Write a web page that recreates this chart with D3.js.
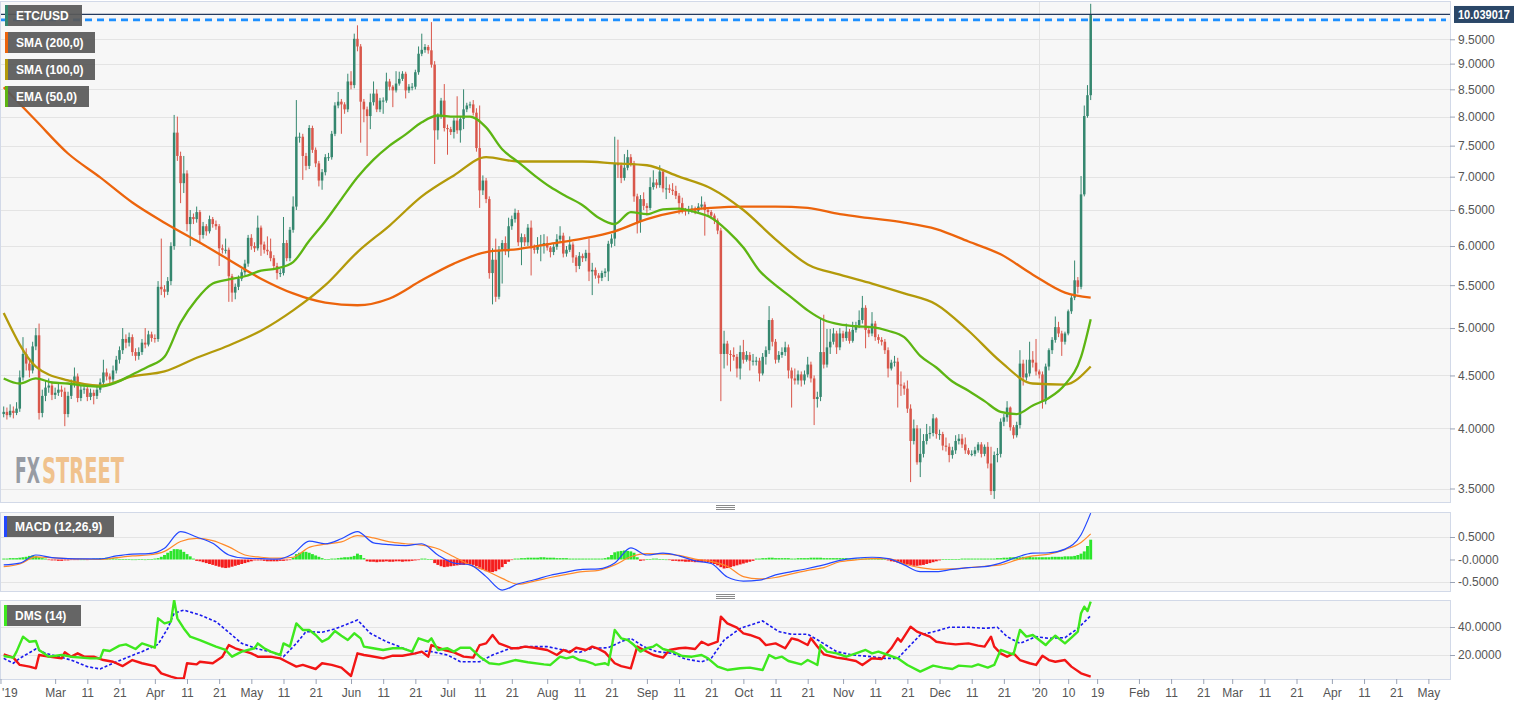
<!DOCTYPE html>
<html>
<head>
<meta charset="utf-8">
<script src="https://cdnjs.cloudflare.com/ajax/libs/d3/7.8.5/d3.min.js"></script>
<style>
    html, body { margin: 0; padding: 0; background: #fff; overflow: hidden; }
    svg { display: block; font-family: 'Liberation Sans', Arial, sans-serif; }
</style>
</head>
<body>
<div id="vis"></div>
<script>
'use strict';

//daily candles ETC/USD, first candle 2019-02-13, last 2020-01-17
var firstDay = Date.UTC(2019, 1, 13);
var firstOpen = 4.13;
var closes = [
    4.15, 4.12, 4.16, 4.14, 4.18, 4.48, 4.72, 4.62, 4.55, 4.80,
    4.92, 4.14, 4.30, 4.38, 4.40, 4.31, 4.33, 4.36, 4.34, 4.13,
    4.30, 4.42, 4.49, 4.28, 4.36, 4.37, 4.29, 4.33, 4.30, 4.36,
    4.43, 4.53, 4.49, 4.46, 4.55, 4.66, 4.76, 4.88, 4.84, 4.90,
    4.74, 4.70, 4.74, 4.84, 4.82, 4.93, 4.89, 4.88, 5.48, 5.45,
    5.42, 5.55, 6.00, 7.72, 7.33, 6.90, 7.05, 6.30, 6.40, 6.37,
    6.47, 6.15, 6.27, 6.20, 6.37, 6.30, 6.27, 5.97, 5.95, 5.95,
    5.61, 5.41, 5.48, 5.58, 5.66, 5.77, 6.11, 6.00, 5.97, 6.25,
    6.02, 5.95, 5.93, 5.84, 5.74, 5.65, 5.65, 6.04, 5.84, 6.22,
    6.55, 7.65, 7.65, 7.33, 7.17, 7.80, 7.43, 7.21, 6.94, 7.07,
    7.31, 7.31, 7.70, 8.20, 8.27, 8.22, 8.13, 8.65, 8.58, 9.51,
    9.35, 8.27, 8.13, 8.01, 8.26, 8.42, 8.13, 8.29, 8.29, 8.65,
    8.55, 8.48, 8.61, 8.70, 8.80, 8.48, 8.55, 8.55, 8.83, 9.20,
    9.28, 9.34, 9.27, 8.98, 7.76, 8.02, 8.29, 7.80, 7.78, 7.73,
    7.93, 7.76, 7.96, 8.13, 8.20, 8.22, 8.07, 7.46, 6.79, 6.94,
    6.66, 5.65, 5.82, 5.36, 5.95, 6.04, 5.93, 6.27, 6.37, 6.46,
    6.05, 6.12, 6.05, 6.25, 5.97, 5.95, 6.00, 6.02, 6.04, 5.98,
    5.92, 5.99, 6.09, 6.14, 5.90, 5.95, 6.02, 5.85, 5.74, 5.87,
    5.84, 5.91, 5.67, 5.69, 5.62, 5.59, 5.65, 5.67, 6.03, 6.10,
    7.21, 7.18, 6.98, 7.14, 7.31, 7.21, 6.70, 6.33, 6.66, 6.56,
    6.53, 6.84, 6.91, 6.87, 7.08, 6.82, 6.82, 6.80, 6.78, 6.71,
    6.60, 6.50, 6.48, 6.51, 6.52, 6.49, 6.55, 6.58, 6.50, 6.47,
    6.42, 6.35, 6.21, 4.72, 4.83, 4.72, 4.71, 4.69, 4.57, 4.74,
    4.66, 4.71, 4.65, 4.65, 4.65, 4.52, 4.69, 4.76, 5.09, 4.85,
    4.66, 4.71, 4.74, 4.79, 4.55, 4.47, 4.45, 4.51, 4.45, 4.51,
    4.61, 4.47, 4.27, 4.29, 4.74, 4.61, 4.79, 4.85, 4.94, 4.79,
    4.94, 4.89, 4.96, 4.86, 4.98, 5.03, 5.09, 5.23, 4.98, 4.94,
    5.05, 4.90, 4.87, 4.85, 4.76, 4.57, 4.63, 4.64, 4.41, 4.40,
    4.37, 4.18, 3.89, 4.00, 3.71, 3.78, 3.89, 3.95, 3.96, 4.09,
    3.95, 3.95, 3.85, 3.84, 3.77, 3.81, 3.89, 3.91, 3.86, 3.81,
    3.78, 3.78, 3.81, 3.86, 3.78, 3.84, 3.70, 3.48, 3.77, 3.78,
    4.06, 4.10, 4.19, 4.01, 3.94, 4.03, 4.62, 4.48, 4.52, 4.66,
    4.63, 4.54, 4.51, 4.25, 4.59, 4.76, 4.87, 5.01, 4.94, 4.85,
    4.94, 5.19, 5.35, 5.56, 5.48, 6.73, 8.01, 8.39, 10.04
];
var highs = [
    4.20, 4.19, 4.22, 4.20, 4.24, 4.55, 4.90, 4.78, 4.66, 4.85,
    5.00, 5.05, 4.36, 4.45, 4.47, 4.44, 4.38, 4.42, 4.40, 4.38,
    4.34, 4.46, 4.58, 4.52, 4.40, 4.42, 4.40, 4.37, 4.36, 4.40,
    4.47, 4.66, 4.57, 4.52, 4.60, 4.70, 4.80, 5.00, 4.93, 4.95,
    4.93, 4.78, 4.79, 4.88, 5.00, 4.97, 4.96, 4.93, 5.55, 6.10,
    5.50, 5.60, 6.05, 8.03, 8.00, 7.40, 7.33, 7.10, 6.50, 6.45,
    6.55, 6.50, 6.33, 6.30, 6.42, 6.40, 6.35, 6.30, 6.02, 6.10,
    5.98, 5.64, 5.52, 5.62, 5.70, 5.82, 6.15, 6.16, 6.05, 6.42,
    6.28, 6.06, 6.13, 6.10, 5.88, 5.78, 5.70, 6.40, 6.08, 6.26,
    6.70, 8.30, 7.72, 7.70, 7.38, 7.85, 7.84, 7.47, 7.25, 7.12,
    7.36, 7.38, 7.75, 8.26, 8.45, 8.32, 8.26, 8.80, 8.85, 9.62,
    9.80, 9.40, 8.32, 8.18, 8.42, 8.65, 8.50, 8.34, 8.35, 8.82,
    8.70, 8.58, 8.85, 8.84, 8.85, 8.84, 8.60, 8.62, 8.88, 9.35,
    9.62, 9.40, 9.38, 9.87, 9.05, 8.06, 8.34, 8.60, 7.86, 7.82,
    7.98, 8.37, 8.00, 8.50, 8.25, 8.27, 8.30, 8.15, 8.20, 7.02,
    6.98, 6.70, 5.97, 6.10, 6.00, 6.08, 6.13, 6.39, 6.42, 6.52,
    6.50, 6.17, 6.16, 6.30, 6.35, 6.02, 6.12, 6.15, 6.16, 6.13,
    6.00, 6.03, 6.16, 6.27, 6.18, 6.00, 6.13, 6.05, 5.88, 5.92,
    5.90, 5.95, 6.10, 5.78, 5.72, 5.65, 5.68, 5.71, 6.07, 6.16,
    7.65, 7.60, 7.22, 7.36, 7.43, 7.36, 7.25, 6.74, 6.72, 6.76,
    6.60, 6.99, 7.10, 6.96, 7.18, 7.12, 7.00, 6.88, 6.90, 6.86,
    6.75, 6.68, 6.53, 6.56, 6.57, 6.55, 6.60, 6.70, 6.62, 6.54,
    6.50, 6.45, 6.38, 6.25, 4.97, 4.86, 4.76, 4.79, 4.72, 4.81,
    4.87, 4.75, 4.74, 4.72, 4.69, 4.68, 4.73, 4.80, 5.25, 5.11,
    4.88, 4.75, 4.79, 4.85, 4.82, 4.58, 4.57, 4.55, 4.54, 4.55,
    4.69, 4.64, 4.50, 4.34, 5.11, 5.15, 4.99, 4.99, 5.00, 4.97,
    5.00, 4.97, 5.05, 4.99, 5.07, 5.07, 5.20, 5.37, 5.26, 5.01,
    5.18, 5.08, 4.93, 4.90, 4.88, 4.79, 4.66, 4.70, 4.68, 4.54,
    4.43, 4.45, 4.22, 4.08, 4.03, 4.00, 3.95, 4.04, 4.02, 4.13,
    4.10, 3.99, 3.97, 3.92, 3.87, 3.84, 3.94, 3.95, 3.95, 3.92,
    3.83, 3.81, 3.84, 3.88, 3.88, 3.86, 3.88, 3.84, 3.80, 3.83,
    4.09, 4.13, 4.25, 4.20, 4.03, 4.06, 4.76, 4.66, 4.66, 4.85,
    4.75, 4.88, 4.56, 4.54, 4.62, 4.78, 4.90, 5.13, 5.07, 4.97,
    4.96, 5.21, 5.38, 5.81, 5.60, 7.01, 8.20, 8.58, 10.28
];
var lows = [
    4.10, 4.08, 4.10, 4.09, 4.12, 4.15, 4.45, 4.55, 4.48, 4.52,
    4.76, 4.08, 4.10, 4.25, 4.33, 4.26, 4.27, 4.30, 4.29, 4.02,
    4.10, 4.27, 4.38, 4.24, 4.25, 4.32, 4.25, 4.26, 4.22, 4.27,
    4.33, 4.40, 4.45, 4.40, 4.43, 4.52, 4.62, 4.72, 4.78, 4.80,
    4.70, 4.65, 4.66, 4.71, 4.78, 4.80, 4.85, 4.84, 4.85, 5.38,
    5.35, 5.38, 5.50, 5.95, 7.25, 6.60, 6.75, 6.20, 6.00, 6.30,
    6.32, 6.05, 6.10, 6.14, 6.17, 6.25, 6.22, 5.74, 5.90, 5.90,
    5.30, 5.30, 5.33, 5.44, 5.55, 5.62, 5.73, 5.95, 5.92, 5.94,
    5.87, 5.90, 5.88, 5.80, 5.70, 5.57, 5.60, 5.62, 5.80, 5.80,
    6.18, 6.50, 7.55, 6.95, 7.10, 7.12, 7.38, 7.15, 6.85, 6.80,
    7.02, 7.25, 7.27, 7.66, 8.15, 7.70, 8.05, 8.08, 8.50, 8.52,
    9.25, 7.55, 7.90, 7.33, 7.78, 8.20, 8.08, 8.08, 8.05, 8.25,
    8.48, 8.17, 8.44, 8.57, 8.66, 8.33, 8.43, 8.48, 8.50, 8.78,
    9.15, 9.22, 9.20, 8.92, 7.20, 7.60, 7.96, 7.74, 7.35, 7.68,
    7.62, 7.70, 7.55, 7.78, 8.08, 8.15, 8.02, 7.40, 6.53, 6.72,
    6.60, 5.58, 5.27, 5.30, 5.33, 5.52, 5.88, 5.85, 6.22, 6.32,
    6.00, 5.75, 6.00, 6.00, 5.62, 5.90, 5.90, 5.80, 5.90, 5.94,
    5.85, 5.88, 5.95, 6.05, 5.85, 5.86, 5.92, 5.78, 5.66, 5.70,
    5.79, 5.80, 5.55, 5.38, 5.58, 5.52, 5.55, 5.60, 5.55, 5.98,
    6.00, 6.98, 6.90, 6.94, 7.10, 7.16, 6.62, 6.17, 6.18, 6.50,
    6.42, 6.50, 6.80, 6.82, 6.83, 6.76, 6.66, 6.75, 6.72, 6.66,
    6.44, 6.45, 6.42, 6.44, 6.46, 6.44, 6.45, 6.51, 6.14, 6.42,
    6.37, 6.30, 6.16, 4.25, 4.57, 4.60, 4.54, 4.65, 4.48, 4.46,
    4.62, 4.64, 4.55, 4.60, 4.60, 4.44, 4.50, 4.61, 4.72, 4.80,
    4.62, 4.63, 4.68, 4.70, 4.47, 4.19, 4.41, 4.41, 4.39, 4.41,
    4.48, 4.43, 4.03, 4.19, 4.25, 4.57, 4.58, 4.72, 4.82, 4.72,
    4.76, 4.85, 4.86, 4.83, 4.84, 4.95, 5.00, 5.05, 4.78, 4.90,
    4.91, 4.86, 4.83, 4.81, 4.72, 4.48, 4.55, 4.59, 4.19, 4.30,
    4.31, 4.14, 3.55, 3.86, 3.69, 3.59, 3.75, 3.86, 3.91, 3.93,
    3.91, 3.90, 3.81, 3.80, 3.71, 3.74, 3.78, 3.86, 3.83, 3.78,
    3.77, 3.76, 3.76, 3.79, 3.75, 3.76, 3.66, 3.45, 3.42, 3.71,
    3.75, 4.02, 4.06, 3.98, 3.91, 3.92, 4.00, 4.40, 4.45, 4.49,
    4.58, 4.50, 4.47, 4.18, 4.22, 4.55, 4.72, 4.84, 4.90, 4.70,
    4.82, 4.92, 5.16, 5.32, 5.40, 5.45, 6.70, 7.98, 8.30
];

//moving averages, read every 10 days (last value on the last candle)
var sma200 = [8.54, 7.93, 7.37, 6.99, 6.61, 6.32, 6.07, 5.82, 5.58, 5.40, 5.29, 5.26, 5.34, 5.56, 5.77, 5.92, 5.96, 6.03,
    6.10, 6.20, 6.37, 6.48, 6.53, 6.55, 6.55, 6.53, 6.44, 6.38, 6.32, 6.23, 6.06, 5.89, 5.63, 5.41, 5.35];
var sma100 = [5.17, 4.59, 4.45, 4.40, 4.49, 4.54, 4.68, 4.81, 4.97, 5.20, 5.50, 5.92, 6.28, 6.70, 7.02, 7.31, 7.24, 7.24,
    7.24, 7.21, 7.18, 7.00, 6.82, 6.50, 6.09, 5.76, 5.63, 5.52, 5.40, 5.27, 4.97, 4.64, 4.42, 4.41, 4.59];
//ema 50, read every 5 days
var ema50 = [4.47, 4.42, 4.47, 4.43, 4.42, 4.40, 4.39, 4.43, 4.51, 4.59, 4.69, 5.06, 5.33, 5.52, 5.57, 5.61, 5.68, 5.71,
    5.79, 6.07, 6.34, 6.66, 6.99, 7.27, 7.50, 7.69, 7.90, 8.02, 8.00, 8.00, 7.81, 7.44, 7.23, 7.02, 6.84, 6.70, 6.57,
    6.39, 6.30, 6.47, 6.44, 6.51, 6.52, 6.47, 6.39, 6.21, 5.98, 5.68, 5.50, 5.35, 5.20, 5.09, 5.04, 5.02, 5.01, 4.97,
    4.90, 4.70, 4.58, 4.44, 4.35, 4.25, 4.15, 4.13, 4.21, 4.28, 4.41, 4.69, 5.10];

//macd (12,26,9): lines read every 5 days, histogram daily
var macdLine = [-0.12, -0.08, 0.10, 0.04, 0.02, 0.015, 0.015, 0.08, 0.12, 0.13, 0.25, 0.62, 0.50, 0.36, 0.10, 0.03,
    0.02, 0.01, 0.13, 0.41, 0.35, 0.46, 0.62, 0.37, 0.33, 0.31, 0.35, 0.10, -0.08, -0.12, -0.38, -0.68, -0.54, -0.45,
    -0.35, -0.28, -0.22, -0.21, -0.08, 0.26, 0.10, 0.14, 0.08, -0.03, -0.09, -0.39, -0.48, -0.46, -0.34, -0.27, -0.20,
    -0.12, -0.02, 0.03, 0.05, 0.02, -0.12, -0.27, -0.27, -0.22, -0.18, -0.16, -0.08, 0.05, 0.14, 0.15, 0.23, 0.55, 1.03];
var macdSignal = [-0.16, -0.10, 0.06, 0.04, 0.02, 0.01, 0.0, 0.04, 0.08, 0.10, 0.18, 0.40, 0.47, 0.42, 0.28, 0.10,
    0.05, 0.03, 0.05, 0.27, 0.34, 0.39, 0.53, 0.48, 0.39, 0.35, 0.32, 0.24, 0.06, -0.12, -0.25, -0.42, -0.55, -0.48,
    -0.40, -0.33, -0.27, -0.24, -0.12, 0.06, 0.13, 0.12, 0.09, 0.01, -0.04, -0.15, -0.38, -0.43, -0.40, -0.32, -0.24,
    -0.18, -0.05, -0.01, 0.02, 0.02, -0.10, -0.18, -0.22, -0.21, -0.18, -0.15, -0.12, -0.01, 0.08, 0.12, 0.22, 0.38, 0.57];
var macdHist = [
    0.02, 0.02, 0.03, 0.03, 0.03, 0.04, 0.05, 0.06, 0.08, 0.09, 0.07, 0.05, 0.03, 0.02,
    -0.01, -0.02, -0.02, -0.03, -0.03, -0.02, -0.02, -0.01, -0.01, -0.01, 0.00, 0.00, -0.01, 0.01, 0.02,
    0.02, 0.03, 0.03, 0.04, 0.03, 0.03, 0.02, 0.01, 0.01, 0.01,
    0.01, 0.00, 0.00, 0.01, 0.01, 0.00, 0.01, 0.01, 0.02,
    0.03, 0.06, 0.10, 0.15, 0.19, 0.23, 0.23, 0.22, 0.17, 0.12, 0.07, 0.02,
    -0.03, -0.04, -0.06, -0.08, -0.10, -0.12, -0.14, -0.16, -0.18, -0.19, -0.18, -0.16, -0.14, -0.12, -0.10, -0.08, -0.06, -0.04, -0.02,
    -0.02, -0.02, -0.03, -0.04, -0.04, -0.04, -0.04, -0.03, -0.03, -0.02, -0.01,
    0.04, 0.12, 0.15, 0.17, 0.17, 0.15, 0.12, 0.09, 0.06, 0.03,
    0.01, 0.01, 0.02, 0.02, 0.03,
    0.04, 0.05, 0.05, 0.06, 0.08, 0.13, 0.10, 0.03,
    -0.04, -0.05, -0.05, -0.06, -0.05, -0.05, -0.04, -0.05, -0.05, -0.04, -0.04, -0.05, -0.04, -0.04, -0.03, -0.02, -0.01,
    0.02, 0.02, 0.01, 0.01,
    -0.08, -0.12, -0.15, -0.17, -0.16, -0.15, -0.14, -0.13, -0.12, -0.12, -0.11, -0.10,
    -0.12, -0.15, -0.18, -0.22, -0.26, -0.28, -0.28, -0.26, -0.22, -0.17, -0.10, -0.05, -0.01,
    0.02, 0.02, 0.03, 0.03, 0.04, 0.04, 0.04, 0.04, 0.05, 0.05, 0.04, 0.04, 0.04, 0.03, 0.03, 0.03,
    0.03, 0.02, 0.02, 0.02, 0.02, 0.02, 0.02, 0.02, 0.02, 0.02, 0.02, 0.02, 0.03, 0.05, 0.10,
    0.16, 0.18, 0.19, 0.20, 0.19, 0.18, 0.15, 0.05,
    -0.03, -0.02, 0.01, 0.01, 0.02, 0.02, 0.01, 0.01, 0.00, -0.01,
    -0.03, -0.03, -0.04, -0.04, -0.05, -0.05, -0.05, -0.06, -0.06, -0.06, -0.05, -0.06, -0.08,
    -0.10, -0.13, -0.17, -0.20, -0.19, -0.17, -0.15, -0.13, -0.11, -0.09, -0.07, -0.05, -0.03,
    0.02, 0.02, 0.03, 0.03, 0.04, 0.04, 0.03, 0.03, 0.03, 0.03, 0.03, 0.02, 0.02, 0.03, 0.03, 0.03, 0.03, 0.04, 0.04, 0.04,
    0.04, 0.03, 0.03, 0.03, 0.03, 0.03, 0.03, 0.03, 0.03, 0.02, 0.02, 0.02, 0.02, 0.02, 0.02, 0.02, 0.02, 0.02, 0.01, 0.01, 0.01,
    -0.02, -0.04, -0.05, -0.07, -0.09, -0.10, -0.11, -0.12, -0.14, -0.14, -0.13, -0.12, -0.10, -0.08, -0.06, -0.04, -0.02,
    0.01, 0.01, 0.01, 0.01, 0.01, 0.01, 0.02, 0.02, 0.02, 0.02, 0.02, 0.02, 0.02, 0.02, 0.02,
    0.02, 0.02, 0.03, 0.03, 0.04, 0.04, 0.05, 0.05, 0.05, 0.05, 0.06, 0.06, 0.06, 0.05, 0.05, 0.05, 0.05, 0.05, 0.05,
    0.06, 0.06, 0.06, 0.06, 0.07, 0.07, 0.07, 0.08,
    0.10, 0.13, 0.18, 0.30, 0.44
];

//dms (14): [day index, value] read at the turning points of each line
var diPlus = [[0, 19.3], [3, 18.1], [4, 22.4], [6, 33.1], [8, 29.5], [10, 30], [11, 23.6], [14, 18.8], [18, 20], [21, 18.8],
    [27, 17.6], [30, 17.6], [31, 23.6], [33, 22.9], [36, 26.7], [38, 27.6], [41, 24.3], [43, 28.3], [47, 25.2], [48, 46.2],
    [50, 42.6], [52, 43.8], [53, 59.3], [54, 46.2], [56, 39], [58, 33.1], [61, 30.7], [66, 26], [69, 23.6], [71, 18.8],
    [74, 22.4], [78, 24.8], [79, 28.3], [81, 24.8], [83, 22.4], [86, 20], [87, 28.3], [89, 26], [91, 42.6], [93, 37.9],
    [95, 37.9], [97, 34.3], [99, 29.5], [101, 31.9], [103, 37.1], [105, 33.8], [107, 30.7], [109, 35.5], [111, 31.9],
    [112, 26], [114, 25.2], [118, 23.6], [121, 24.8], [124, 24.8], [127, 22.4], [129, 31.9], [132, 29.5], [133, 31.9],
    [135, 23.6], [138, 24.8], [140, 22.4], [142, 25.2], [145, 25.2], [148, 18.8], [151, 14.1], [154, 13.3], [159, 16.4],
    [163, 14.8], [168, 13.3], [170, 12.9], [173, 18.8], [175, 17.6], [177, 18.8], [179, 16.4], [181, 15.7], [183, 14.1],
    [184, 12.9], [187, 14.1], [188, 12.9], [189, 24.8], [190, 37.9], [192, 31.9], [194, 30.7], [196, 27.1], [198, 22.4],
    [200, 24.8], [202, 26], [203, 27.6], [205, 24.3], [208, 22.4], [211, 19.3], [214, 18.8], [217, 20], [219, 17.6],
    [222, 11.7], [225, 9.3], [229, 10.5], [232, 11], [236, 9.3], [238, 20], [240, 17.6], [242, 18.8], [244, 15.7],
    [248, 13.3], [250, 16.4], [252, 14.1], [253, 12.9], [254, 27.1], [256, 22.4], [259, 21.2], [262, 18.8], [265, 21.2],
    [268, 23.6], [270, 21.2], [272, 22.4], [275, 20], [278, 17.6], [281, 12.9], [285, 8.1], [289, 12.4], [292, 11],
    [295, 10], [297, 12.4], [301, 11.7], [303, 13.3], [306, 11], [308, 12.9], [310, 23.6], [313, 21.2], [314, 20.5],
    [316, 37.9], [318, 33.1], [320, 34.3], [322, 30.7], [324, 27.1], [325, 29.5], [327, 33.8], [330, 28.3], [332, 32.4],
    [334, 36.7], [335, 49.8], [336, 54.5], [337, 51.4], [338, 58.1]];
var diMinus = [[0, 20.5], [3, 18.1], [5, 12.9], [8, 11.7], [10, 10.5], [11, 20], [14, 18.8], [18, 17.6], [19, 21.9],
    [21, 18.8], [23, 21.2], [25, 18.8], [28, 18.8], [31, 16.4], [34, 15.2], [37, 12.1], [40, 16.4], [43, 14.1], [47, 12.1],
    [49, 6.9], [52, 4.5], [54, 3.3], [56, 3.3], [57, 14.1], [60, 13.3], [61, 15.2], [65, 14.1], [68, 18.8], [70, 27.1],
    [72, 24.8], [77, 21.2], [79, 18.8], [83, 18.8], [86, 17.6], [88, 15.2], [91, 11.7], [93, 12.9], [97, 10], [99, 14.1],
    [102, 12.9], [105, 11], [108, 5], [110, 21.2], [112, 20], [114, 19.3], [118, 17.6], [121, 19.5], [124, 19.5],
    [128, 21.2], [130, 22.4], [132, 18.8], [133, 27.1], [137, 23.6], [140, 21.9], [143, 18.8], [146, 18.1], [148, 27.1],
    [150, 28.3], [152, 34.3], [154, 28.3], [158, 24.8], [160, 24.8], [162, 26], [165, 25.2], [169, 23.6], [172, 20],
    [174, 23.6], [176, 21.9], [178, 25.2], [181, 23.6], [183, 26], [185, 24.3], [187, 21.9], [190, 14.1], [192, 12.1],
    [195, 10.5], [197, 26], [199, 23.6], [202, 20], [205, 18.1], [207, 23.6], [210, 24.8], [212, 25.2], [215, 24.3],
    [217, 29.5], [219, 27.1], [222, 29.5], [223, 47.4], [225, 42.6], [228, 39.5], [230, 35.5], [232, 34.3], [235, 31.9],
    [237, 27.1], [240, 28.3], [243, 24.8], [245, 31.9], [247, 30.7], [250, 27.1], [251, 31.9], [253, 26], [255, 20.5],
    [259, 18.1], [262, 17.1], [265, 15.7], [267, 12.9], [270, 17.6], [273, 17.1], [276, 24.8], [278, 31.9], [279, 29.5],
    [282, 40.2], [284, 36.7], [288, 33.1], [290, 29.5], [293, 28.3], [296, 27.6], [300, 28.3], [303, 26.7], [305, 26],
    [307, 33.1], [308, 26], [310, 21.2], [312, 18.8], [314, 21.2], [316, 16.4], [319, 14.1], [321, 12.9], [323, 19.5],
    [325, 16.4], [327, 15.2], [330, 16.4], [332, 11.7], [335, 6.9], [338, 4.5]];
var adx = [[0, 17.6], [3, 14.1], [5, 17.6], [10, 24.3], [13, 21.2], [21, 16.4], [26, 11.7], [30, 10], [34, 14.1],
    [39, 18.8], [43, 22.4], [48, 27.6], [51, 39], [53, 49.8], [56, 52.1], [61, 48.6], [66, 43.8], [70, 36.2], [74, 28.3],
    [79, 24.3], [83, 22.4], [87, 18.8], [91, 28.3], [94, 36.7], [99, 36.2], [103, 38.6], [110, 45], [114, 35.5],
    [119, 29.5], [123, 26], [128, 21.2], [132, 22.9], [138, 20], [142, 15.2], [148, 15.2], [152, 20], [157, 24.3],
    [162, 26], [169, 26], [174, 23.6], [179, 21.9], [183, 24.8], [188, 25.2], [192, 29.5], [195, 31.9], [199, 26],
    [203, 22.4], [208, 21.2], [212, 17.1], [217, 15.2], [220, 17.6], [224, 30.7], [229, 39], [236, 44.3], [241, 36.7],
    [245, 34.8], [250, 34.8], [254, 29.5], [259, 22.4], [264, 20], [270, 18.8], [274, 17.6], [278, 17.6], [281, 24.8],
    [285, 34.3], [290, 37.1], [294, 39.8], [300, 39.8], [305, 39.1], [309, 39.8], [312, 33.1], [316, 28.3], [321, 33.1],
    [325, 31.9], [330, 32.4], [334, 39], [338, 48.1]];

//axes
var priceTicks = [3.5, 4, 4.5, 5, 5.5, 6, 6.5, 7, 7.5, 8, 8.5, 9, 9.5];
var macdTicks = [0.5, 0, -0.5];
var macdTickLabels = ['0.5000', '-0.0000', '-0.5000'];
var dmsTicks = [40, 20];
var lastPrice = 10.039017;
var levelPrice = 9.92;
var tickDates = ['2019-02-12', '2019-03-01', '2019-03-11', '2019-03-21', '2019-04-01', '2019-04-11', '2019-04-21',
    '2019-05-01', '2019-05-11', '2019-05-21', '2019-06-01', '2019-06-11', '2019-06-21', '2019-07-01', '2019-07-11',
    '2019-07-21', '2019-08-01', '2019-08-11', '2019-08-21', '2019-09-01', '2019-09-11', '2019-09-21', '2019-10-01',
    '2019-10-11', '2019-10-21', '2019-11-01', '2019-11-11', '2019-11-21', '2019-12-01', '2019-12-11', '2019-12-21',
    '2020-01-01', '2020-01-10', '2020-01-19', '2020-02-01', '2020-02-11', '2020-02-21', '2020-03-01', '2020-03-11',
    '2020-03-21', '2020-04-01', '2020-04-11', '2020-04-21', '2020-05-01'];
var tickLabels = ["'19", 'Mar', '11', '21', 'Apr', '11', '21', 'May', '11', '21', 'Jun', '11', '21', 'Jul', '11', '21',
    'Aug', '11', '21', 'Sep', '11', '21', 'Oct', '11', '21', 'Nov', '11', '21', 'Dec', '11', '21', "'20", '10', '19',
    'Feb', '11', '21', 'Mar', '11', '21', 'Apr', '11', '21', 'May'];

//layout
var W = 1534, H = 706;
var plotRight = 1450;
var pane = {
    price: { top: 1, bottom: 502 },
    macd: { top: 512, bottom: 591 },
    dms: { top: 600, bottom: 679 }
};
var col = {
    up: '#35876f', down: '#d9574b',
    sma200: '#ec640c', sma100: '#b39a0a', ema50: '#5db513',
    macd: '#2348ff', signal: '#ff8a2a', histUp: '#2ce52c', histDown: '#f51d1d',
    diPlus: '#3ee81e', diMinus: '#f21515', adx: '#1a1aee',
    grid: '#e4e4e4', frame: '#d2d9e8', paneBg: '#f7f7f7', label: '#555'
};

function dayDate(i) {
    return new Date(firstDay + i * 864e5);
}

var lastIndex = closes.length - 1;
var x = d3.scaleUtc().domain([dayDate(0), dayDate(lastIndex)]).range([3.7, 1090.7]);
var yPrice = d3.scaleLog().domain([3.5, 9.5]).range([488.5, 39.3]);
var yMacd = d3.scaleLinear().domain([-0.5, 0.5]).range([582, 537]);
var yDms = d3.scaleLinear().domain([20, 40]).range([655, 627]);

var svg = d3.select('#vis').append('svg')
    .attr('width', W)
    .attr('height', H);
svg.append('rect').attr('width', W).attr('height', H).attr('fill', '#fff');

var defs = svg.append('defs');
Object.keys(pane).forEach(function (k) {
    defs.append('clipPath').attr('id', 'clip-' + k)
        .append('rect')
        .attr('x', 0.5)
        .attr('y', pane[k].top)
        .attr('width', plotRight - 0.5)
        .attr('height', pane[k].bottom - pane[k].top);
});

//panel backgrounds and grid
Object.keys(pane).forEach(function (k) {
    svg.append('rect')
        .attr('x', 0.5)
        .attr('y', pane[k].top + 0.5)
        .attr('width', plotRight)
        .attr('height', pane[k].bottom - pane[k].top)
        .attr('fill', col.paneBg)
        .attr('stroke', col.frame);
});

function hGrid(values, scale) {
    svg.append('g').selectAll('line')
        .data(values)
        .enter()
        .append('line')
        .attr('x1', 1)
        .attr('x2', plotRight)
        .attr('y1', function (d) { return Math.round(scale(d)) + 0.5; })
        .attr('y2', function (d) { return Math.round(scale(d)) + 0.5; })
        .attr('stroke', col.grid);
}
hGrid(priceTicks, yPrice);
hGrid([0.5, -0.5], yMacd);
hGrid(dmsTicks, yDms);

//year separator
var yearX = Math.round(x(new Date(Date.UTC(2020, 0, 1)))) + 0.5;
Object.keys(pane).forEach(function (k) {
    svg.append('line')
        .attr('x1', yearX).attr('x2', yearX)
        .attr('y1', pane[k].top + 1).attr('y2', pane[k].bottom)
        .attr('stroke', '#e2e2e2');
});

//watermark: each part squeezed horizontally to its width
function markText(x0, w, label, color) {
    var t = svg.append('text')
        .attr('x', 0)
        .attr('y', 0)
        .text(label)
        .attr('fill', color)
        .style('font-family', "'DejaVu Sans Condensed', 'Liberation Sans Narrow', sans-serif")
        .style('font-weight', 'bold')
        .style('font-size', '36px')
        .style('opacity', 0.9);
    var natural = t.node().getComputedTextLength();
    t.attr('transform', 'translate(' + x0 + ',483) scale(' + (w / natural) + ',1)');
}
markText(15, 25, 'FX', '#8d929b');
markText(42, 82, 'STREET', '#f0bd82');

//price panel
var gPrice = svg.append('g').attr('clip-path', 'url(#clip-price)');

var candles = closes.map(function (c, i) {
    //open of a 24h market candle = previous close
    var o = i === 0 ? firstOpen : closes[i - 1];
    return {
        date: dayDate(i), o: o, c: c,
        h: Math.max(highs[i], o, c), l: Math.min(lows[i], o, c)
    };
});

gPrice.selectAll('.wick')
    .data(candles)
    .enter()
    .append('line')
    .attr('class', 'wick')
    .attr('x1', function (d) { return x(d.date); })
    .attr('x2', function (d) { return x(d.date); })
    .attr('y1', function (d) { return yPrice(d.h); })
    .attr('y2', function (d) { return yPrice(d.l); })
    .attr('stroke', function (d) { return d.c >= d.o ? col.up : col.down; })
    .attr('stroke-width', 1);

gPrice.selectAll('.body')
    .data(candles)
    .enter()
    .append('rect')
    .attr('class', 'body')
    .attr('x', function (d) { return x(d.date) - 1.25; })
    .attr('width', 2.5)
    .attr('y', function (d) { return yPrice(Math.max(d.o, d.c)); })
    .attr('height', function (d) { return Math.max(1, yPrice(Math.min(d.o, d.c)) - yPrice(Math.max(d.o, d.c))); })
    .attr('fill', function (d) { return d.c >= d.o ? col.up : col.down; });

function sampled(values, step) {
    return values.map(function (v, k) {
        return { date: dayDate(Math.min(k * step, lastIndex)), v: v };
    });
}

var priceLine = d3.line()
    .x(function (d) { return x(d.date); })
    .y(function (d) { return yPrice(d.v); })
    .curve(d3.curveMonotoneX);

[[sma200, 10, col.sma200], [sma100, 10, col.sma100], [ema50, 5, col.ema50]].forEach(function (s) {
    gPrice.append('path')
        .datum(sampled(s[0], s[1]))
        .attr('d', priceLine)
        .attr('fill', 'none')
        .attr('stroke', s[2])
        .attr('stroke-width', 2.3)
        .attr('stroke-linejoin', 'round');
});

//last price line and level line
var lastY = yPrice(lastPrice);
svg.append('line')
    .attr('x1', 1).attr('x2', plotRight)
    .attr('y1', lastY).attr('y2', lastY)
    .attr('stroke', '#24395b')
    .attr('stroke-width', 1.2);
svg.append('line')
    .attr('x1', 1).attr('x2', plotRight - 4)
    .attr('y1', yPrice(levelPrice)).attr('y2', yPrice(levelPrice))
    .attr('stroke', '#1e90ff')
    .attr('stroke-width', 2.6)
    .attr('stroke-dasharray', '7,5');

//macd panel
var gMacd = svg.append('g').attr('clip-path', 'url(#clip-macd)');
var histData = macdHist.map(function (v, i) { return { date: dayDate(i), v: v }; });
gMacd.selectAll('.hist')
    .data(histData)
    .enter()
    .append('rect')
    .attr('class', 'hist')
    .attr('x', function (d) { return x(d.date) - 1.45; })
    .attr('width', 2.9)
    .attr('y', function (d) { return Math.min(yMacd(d.v), yMacd(0)); })
    .attr('height', function (d) { return Math.max(0.6, Math.abs(yMacd(d.v) - yMacd(0))); })
    .attr('fill', function (d) { return d.v >= 0 ? col.histUp : col.histDown; });

var macdPath = d3.line()
    .x(function (d) { return x(d.date); })
    .y(function (d) { return yMacd(d.v); })
    .curve(d3.curveMonotoneX);
[[macdSignal, col.signal], [macdLine, col.macd]].forEach(function (s) {
    gMacd.append('path')
        .datum(sampled(s[0], 5))
        .attr('d', macdPath)
        .attr('fill', 'none')
        .attr('stroke', s[1])
        .attr('stroke-width', 1.2);
});

//dms panel
var gDms = svg.append('g').attr('clip-path', 'url(#clip-dms)');
var dmsPath = d3.line()
    .x(function (d) { return x(dayDate(d[0])); })
    .y(function (d) { return yDms(d[1]); });
gDms.append('path')
    .datum(adx)
    .attr('d', dmsPath)
    .attr('fill', 'none')
    .attr('stroke', col.adx)
    .attr('stroke-width', 1.6)
    .attr('stroke-dasharray', '3,2');
[[diMinus, col.diMinus], [diPlus, col.diPlus]].forEach(function (s) {
    gDms.append('path')
        .datum(s[0])
        .attr('d', dmsPath)
        .attr('fill', 'none')
        .attr('stroke', s[1])
        .attr('stroke-width', 2.4)
        .attr('stroke-linejoin', 'round');
});

//right axes
function styleAxis(g) {
    g.select('.domain').remove();
    g.selectAll('.tick line').attr('stroke', '#9aa3b5');
    g.selectAll('.tick text')
        .attr('fill', col.label)
        .style('font-size', '12px')
        .style('font-family', "'Liberation Sans', Arial, sans-serif");
}
svg.append('g')
    .attr('transform', 'translate(' + plotRight + ',0)')
    .call(d3.axisRight(yPrice).tickValues(priceTicks).tickFormat(d3.format('.4f')).tickSize(5).tickPadding(3))
    .call(styleAxis);
svg.append('g')
    .attr('transform', 'translate(' + plotRight + ',0)')
    .call(d3.axisRight(yMacd).tickValues(macdTicks)
        .tickFormat(function (d, i) { return macdTickLabels[i]; }).tickSize(5).tickPadding(3))
    .call(styleAxis);
svg.append('g')
    .attr('transform', 'translate(' + plotRight + ',0)')
    .call(d3.axisRight(yDms).tickValues(dmsTicks).tickFormat(d3.format('.4f')).tickSize(5).tickPadding(3))
    .call(styleAxis);

//last price tag
svg.append('rect')
    .attr('x', 1454).attr('y', lastY - 8.5)
    .attr('width', 60).attr('height', 17)
    .attr('fill', '#2b4768');
svg.append('text')
    .attr('x', 1458).attr('y', lastY + 4.5)
    .text(d3.format('.6f')(lastPrice))
    .attr('fill', '#fff')
    .attr('textLength', 52)
    .attr('lengthAdjust', 'spacingAndGlyphs')
    .style('font-size', '12px')
    .style('font-weight', 'bold');

//bottom axis
var xAxisG = svg.append('g')
    .attr('transform', 'translate(0,' + pane.dms.bottom + ')')
    .call(d3.axisBottom(x)
        .tickValues(tickDates.map(function (s) { return new Date(s + 'T00:00:00Z'); }))
        .tickFormat(function (d, i) { return tickLabels[i]; })
        .tickSize(5).tickPadding(4))
    .call(styleAxis);
//year label sits on the left edge
xAxisG.select('.tick text')
    .attr('text-anchor', 'start')
    .attr('x', 1);

//legends
function legend(x0, y0, w, color, label) {
    var g = svg.append('g');
    g.append('rect')
        .attr('x', x0).attr('y', y0)
        .attr('width', w).attr('height', 21)
        .attr('fill', '#595959')
        .attr('opacity', 0.93);
    g.append('rect')
        .attr('x', x0).attr('y', y0)
        .attr('width', 3).attr('height', 21)
        .attr('fill', color);
    g.append('text')
        .attr('x', x0 + 11).attr('y', y0 + 15)
        .text(label)
        .attr('fill', '#fff')
        .style('font-size', '12px')
        .style('font-weight', 'bold');
}
legend(5, 5, 77, col.up, 'ETC/USD');
legend(5, 32, 90, col.sma200, 'SMA (200,0)');
legend(5, 59, 90, col.sma100, 'SMA (100,0)');
legend(5, 86, 84, col.ema50, 'EMA (50,0)');
legend(4, 516, 110, col.macd, 'MACD (12,26,9)');
legend(4, 605, 77, col.diPlus, 'DMS (14)');

//pane resize handles
[505.5, 594.5].forEach(function (y0) {
    [0, 2, 4].forEach(function (dy) {
        svg.append('line')
            .attr('x1', 716).attr('x2', 735)
            .attr('y1', y0 + dy).attr('y2', y0 + dy)
            .attr('stroke', '#8a8a8a')
            .attr('stroke-width', 1);
    });
});
</script>
</body>
</html>
